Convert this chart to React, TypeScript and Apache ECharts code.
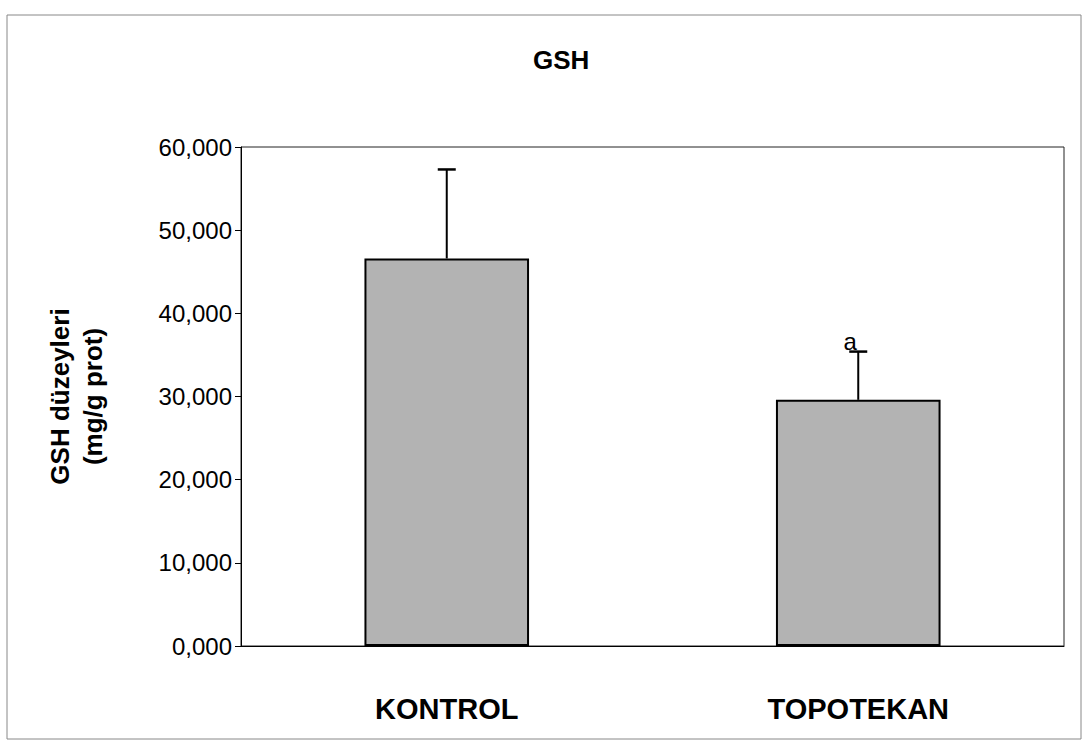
import React, { useEffect, useRef } from "react";
import * as echarts from "echarts";

const categories = ["KONTROL", "TOPOTEKAN"];
const means = [46.6, 29.6];
const errors = [10.7, 5.8];
const marks = ["", "a"];
const yTicks = { min: 0, max: 60, interval: 10 };

export default function App() {
  const ref = useRef<HTMLDivElement>(null);
  useEffect(() => {
    if (!ref.current) return;
    const chart = echarts.init(ref.current, null, { renderer: "svg" });
    const font = "'Liberation Sans', Arial, sans-serif";
    chart.setOption({
      animation: false,
      backgroundColor: "#ffffff",
      title: {
        text: "GSH",
        left: 528,
        top: 42,
        textStyle: { fontFamily: font, fontSize: 26, fontWeight: "bold", color: "#000" },
      },
      graphic: [
        {
          type: "rect",
          shape: { x: 7, y: 15, width: 1074, height: 724 },
          style: { fill: "none", stroke: "#888", lineWidth: 1 },
          silent: true,
        },
      ],
      grid: { left: 241, right: 23, top: 147, bottom: 103, show: true, borderColor: "#222", borderWidth: 1 },
      xAxis: {
        type: "category",
        data: categories,
        axisTick: { show: false },
        axisLine: { lineStyle: { color: "#000", width: 1 } },
        axisLabel: {
          fontFamily: font,
          fontSize: 29,
          fontWeight: "bold",
          color: "#000",
          margin: 48,
        },
      },
      yAxis: {
        type: "value",
        min: yTicks.min,
        max: yTicks.max,
        interval: yTicks.interval,
        name: "GSH düzeyleri\n(mg/g prot)",
        nameLocation: "middle",
        nameGap: 132,
        nameTextStyle: {
          fontFamily: font,
          fontSize: 26,
          fontWeight: "bold",
          color: "#000",
          lineHeight: 33,
        },
        axisLine: { show: true, lineStyle: { color: "#000", width: 1 } },
        axisTick: { show: true, inside: false, length: 6, lineStyle: { color: "#000" } },
        splitLine: { show: false },
        axisLabel: {
          fontFamily: font,
          fontSize: 24,
          color: "#000",
          margin: 9,
          formatter: (v: number) => v.toFixed(3).replace(".", ","),
        },
      },
      series: [
        {
          type: "bar",
          data: means,
          barWidth: "40%",
          itemStyle: { color: "#b3b3b3", borderColor: "#000", borderWidth: 2 },
          z: 2,
        },
        {
          type: "custom",
          z: 3,
          data: means.map((m, i) => [i, m, errors[i]]),
          renderItem: (params: any, api: any) => {
            const i = api.value(0);
            const m = api.value(1);
            const e = api.value(2);
            const base = api.coord([i, m]);
            const top = api.coord([i, m + e]);
            const cap = 9;
            const children: any[] = [
              { type: "line", shape: { x1: base[0], y1: base[1], x2: top[0], y2: top[1] }, style: { stroke: "#000", lineWidth: 2 } },
              { type: "line", shape: { x1: top[0] - cap, y1: top[1], x2: top[0] + cap, y2: top[1] }, style: { stroke: "#000", lineWidth: 2.5 } },
            ];
            const mk = marks[params.dataIndex];
            if (mk) {
              children.push({
                type: "text",
                style: {
                  text: mk,
                  x: top[0] - 8,
                  y: top[1] + 2,
                  align: "center",
                  verticalAlign: "bottom",
                  fontFamily: font,
                  fontSize: 24,
                  fill: "#000",
                },
              });
            }
            return { type: "group", children };
          },
        },
      ],
    });
    return () => chart.dispose();
  }, []);
  return <div ref={ref} style={{ width: 1087, height: 749, position: "absolute", left: 0, top: 0 }} />;
}
